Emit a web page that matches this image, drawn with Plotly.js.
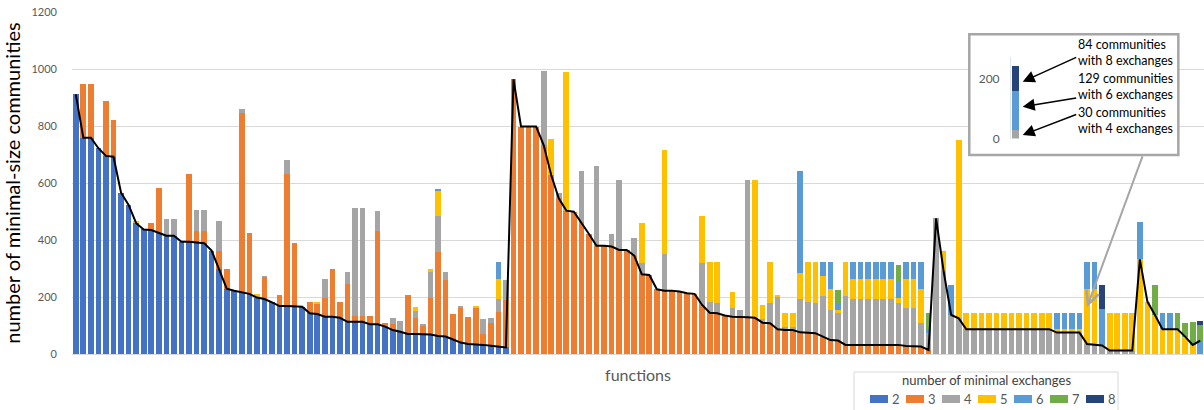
<!DOCTYPE html>
<html>
<head>
<meta charset="utf-8">
<script src="https://cdn.plot.ly/plotly-3.0.1.min.js"></script>
<style>html,body{margin:0;padding:0;background:#fff;}#chart{width:1204px;height:410px;}</style>
</head>
<body>
<div id="chart"></div>
<script>
// ---- categories ----
const seriesNames = ['2','3','4','5','6','7','8'];
const seriesColors = ['#4472C4','#ED7D31','#A5A5A5','#FFC000','#5B9BD5','#70AD47','#264478'];
const legendTitle = 'number of minimal exchanges';

// ---- series values (one entry per function, 150 functions) ----
const ex2 = [
911,759,759,722,695,692,566,523,459,437,
435,426,415,415,394,394,391,389,363,297,
229,222,216,211,198,193,181,168,168,168,
166,143,140,131,131,127,113,113,113,104,
104,96,84,78,70,70,70,68,63,61,
51,40,35,34,32,29,26,23,0,0,
0,0,0,0,0,0,0,0,0,0,
0,0,0,0,0,0,0,0,0,0,
0,0,0,0,0,0,0,0,0,0,
0,0,0,0,0,0,0,0,0,0,
0,0,0,0,0,0,0,0,0,0,
0,0,0,0,0,0,0,0,0,0,
0,0,0,0,0,0,0,0,0,0,
0,0,0,0,0,0,0,0,0,0,
0,0,0,0,0,0,0,0,0,0];
const ex3 = [
0,187,187,0,193,128,0,0,0,0,
24,156,0,0,0,239,42,44,0,64,
69,0,629,212,0,78,0,39,465,223,
0,38,37,67,166,54,133,20,20,29,
328,12,20,0,137,57,29,130,296,197,
89,123,96,129,37,79,123,165,964,798,
798,798,733,628,546,503,499,462,421,380,
380,377,365,365,345,280,277,227,222,222,
219,213,211,172,145,143,135,131,131,129,
127,110,108,87,84,84,76,75,73,61,
49,47,32,32,32,32,32,32,32,32,
28,28,26,14,0,0,0,0,0,0,
0,0,0,0,0,0,0,0,0,0,
0,0,0,0,0,0,0,0,0,0,
0,0,0,0,0,0,0,0,0,0];
const ex4 = [
0,0,0,0,0,0,0,0,0,0,
0,0,60,60,0,0,71,71,0,105,
0,0,16,0,0,4,0,0,48,0,
0,0,0,64,0,0,42,380,380,0,
71,0,23,39,0,25,5,90,126,30,
0,5,0,0,55,19,43,72,0,0,
0,0,260,0,20,0,0,180,0,278,
0,44,246,0,63,41,0,0,129,0,
0,0,0,146,39,35,0,32,22,482,
0,13,70,112,12,10,116,109,105,144,
105,96,173,160,160,160,160,160,160,146,
135,135,82,59,476,290,137,125,87,87,
87,87,87,87,87,87,87,87,87,87,
75,75,75,75,35,32,30,12,12,12,
12,0,0,0,0,0,0,0,0,0];
const ex5 = [
0,0,0,0,0,0,0,0,6,0,
0,0,0,0,0,0,0,0,0,0,
0,0,0,0,12,0,0,0,0,0,
0,0,4,0,0,0,0,0,0,0,
0,0,0,0,0,13,0,10,87,0,
0,0,0,5,0,0,71,0,0,0,
0,0,0,126,0,487,0,0,0,0,
0,0,0,0,0,140,0,0,365,0,
0,0,0,166,139,145,0,53,0,0,
484,49,145,8,49,51,91,139,145,70,
73,11,118,71,71,71,71,71,71,20,
100,100,119,0,0,73,0,626,56,56,
56,56,56,56,56,56,56,56,56,56,
12,12,12,12,192,195,0,131,131,131,
131,332,184,137,87,87,87,61,32,0];
const ex6 = [
0,0,0,0,0,0,0,0,0,0,
0,0,0,0,0,0,0,0,0,0,
0,0,0,0,0,0,0,0,0,0,
0,0,0,0,0,0,0,0,0,0,
0,0,0,0,0,0,0,0,6,0,
0,0,0,0,0,0,61,0,0,0,
0,0,0,0,0,0,0,0,0,0,
0,0,0,0,0,0,0,0,0,0,
0,0,0,0,0,0,0,0,0,0,
0,0,0,0,0,0,359,0,0,48,
96,21,0,60,60,60,60,60,60,56,
60,60,96,14,0,0,105,0,0,0,
0,0,0,0,0,0,0,0,0,0,
56,56,56,56,96,96,129,0,0,0,
0,130,0,0,56,56,0,0,0,47];
const ex7 = [
0,0,0,0,0,0,0,0,0,0,
0,0,0,0,0,0,0,0,0,0,
0,0,0,0,0,0,0,0,0,0,
0,0,0,0,0,0,0,0,0,0,
0,0,0,0,0,0,0,0,0,0,
0,0,0,0,0,0,0,0,0,0,
0,0,0,0,0,0,0,0,0,0,
0,0,0,0,0,0,0,0,0,0,
0,0,0,0,0,0,0,0,0,0,
0,0,0,0,0,0,0,0,0,0,
0,50,0,0,0,0,0,0,0,57,
0,0,0,56,0,0,0,0,0,0,
0,0,0,0,0,0,0,0,0,0,
0,0,0,0,0,0,0,0,0,0,
0,0,0,105,0,0,56,47,81,55];
const ex8 = [
0,0,0,0,0,0,0,0,0,0,
0,0,0,0,0,0,0,0,0,0,
0,0,0,0,0,0,0,0,0,0,
0,0,0,0,0,0,0,0,0,0,
0,0,0,0,0,0,0,0,0,0,
0,0,0,0,0,0,0,0,0,0,
0,0,0,0,0,0,0,0,0,0,
0,0,0,0,0,0,0,0,0,0,
0,0,0,0,0,0,0,0,0,0,
0,0,0,0,0,0,0,0,0,0,
0,0,0,0,0,0,0,0,0,0,
0,0,0,0,0,0,0,0,0,0,
0,0,0,0,0,0,0,0,0,0,
0,0,0,0,0,0,84,0,0,0,
0,0,0,0,0,0,0,0,0,14];
// black line: communities with the minimal number of exchanges
const minLine = [
911,759,759,722,695,692,566,523,459,437,
435,426,415,415,394,394,391,389,363,297,
229,222,216,211,198,193,181,168,168,168,
166,143,140,131,131,127,113,113,113,104,
104,96,84,78,70,70,70,68,63,61,
51,40,35,34,32,29,26,23,964,798,
798,798,733,628,546,503,499,462,421,380,
380,377,365,365,345,280,277,227,222,222,
219,213,211,172,145,143,135,131,131,129,
127,110,108,87,84,84,76,75,73,61,
49,47,32,32,32,32,32,32,32,32,
28,28,26,14,476,290,137,125,87,87,
87,87,87,87,87,87,87,87,87,87,
75,75,75,75,35,32,30,12,12,12,
12,332,184,137,87,87,87,61,32,47];

// ---- inset (one highlighted function) ----
const insetExchanges = ['4','6','8'];
const insetCommunities = [30,129,84];
const insetText = ['84 communities<br>with 8 exchanges','129 communities<br>with 6 exchanges','30 communities<br>with 4 exchanges'];
const yTicks = [0,200,400,600,800,1000,1200];

const functionsIdx = ex2.map((_, i) => i);
const allSeries = [ex2,ex3,ex4,ex5,ex6,ex7,ex8];
const FONT = 'Lato, "Open Sans", sans-serif';

// plot area geometry (pixels) used to place decorations
const W = 1204, H = 410, ML = 72, MR = 0, MT = 12, MB = 56;
const PW = W - ML - MR, PH = H - MT - MB;
const px = v => (v - ML) / PW;          // pixel x -> paper x
const py = v => (H - MB - v) / PH;      // pixel y -> paper y

const traces = allSeries.map((vals, k) => ({
  type: 'bar', x: functionsIdx, y: vals, name: seriesNames[k],
  marker: {color: seriesColors[k], line: {width: 0}},
  showlegend: false, hoverinfo: 'skip'
}));
traces.push({
  type: 'scatter', mode: 'lines', x: functionsIdx, y: minLine,
  line: {color: '#000000', width: 2}, showlegend: false, hoverinfo: 'skip'
});
insetExchanges.forEach((ex, j) => {
  traces.push({
    type: 'bar', x: [0], y: [insetCommunities[j]], xaxis: 'x2', yaxis: 'y2',
    name: ex, marker: {color: seriesColors[seriesNames.indexOf(ex)]}, showlegend: false, hoverinfo: 'skip'
  });
});

// ---- custom legend (box, title, swatches, labels) ----
const shapes = [
  {type: 'rect', xref: 'x', yref: 'y', x0: 118.4, x1: 146.1, y0: 698, y1: 1122,
   layer: 'between', fillcolor: '#ffffff', line: {color: '#a6a6a6', width: 2.5}},
  {type: 'rect', xref: 'paper', yref: 'paper', x0: px(854), x1: px(1118), y0: py(414), y1: py(372),
   fillcolor: '#ffffff', line: {color: '#d9d9d9', width: 1}, layer: 'above'}
];
const annotations = [
  {xref: 'paper', yref: 'paper', x: px(986), y: py(380), xanchor: 'center', yanchor: 'middle',
   text: legendTitle, showarrow: false, font: {size: 13, color: '#404040'}}
];
seriesNames.forEach((nm, k) => {
  const x0 = 870 + 36 * k;
  shapes.push({type: 'rect', xref: 'paper', yref: 'paper', x0: px(x0), x1: px(x0 + 18),
    y0: py(403), y1: py(395), fillcolor: seriesColors[k], line: {width: 0}, layer: 'above'});
  annotations.push({xref: 'paper', yref: 'paper', x: px(x0 + 20), y: py(399), xanchor: 'left', yanchor: 'middle',
    text: nm, showarrow: false, font: {size: 13, color: '#595959'}});
});

// inset arrows and texts
annotations.push(
  {xref: 'x', yref: 'y', x: 134.0, y: 165, ax: 56, ay: -152, text: '', showarrow: true,
   arrowhead: 5, arrowsize: 1.3, arrowwidth: 2, arrowcolor: '#a6a6a6'},
  {xref: 'paper', yref: 'paper', x: px(1022.7), y: py(81.7), ax: 55, ay: -25, text: '', showarrow: true,
   arrowhead: 2, arrowsize: 1.6, arrowwidth: 1.5, arrowcolor: '#000000'},
  {xref: 'paper', yref: 'paper', x: px(1022.7), y: py(106.7), ax: 55, ay: -9, text: '', showarrow: true,
   arrowhead: 2, arrowsize: 1.6, arrowwidth: 1.5, arrowcolor: '#000000'},
  {xref: 'paper', yref: 'paper', x: px(1022.7), y: py(135), ax: 55, ay: -21, text: '', showarrow: true,
   arrowhead: 2, arrowsize: 1.6, arrowwidth: 1.5, arrowcolor: '#000000'}
);
[53, 86.5, 120].forEach((yc, j) => {
  annotations.push({xref: 'paper', yref: 'paper', x: px(1076), y: py(yc), xanchor: 'left', yanchor: 'middle',
    align: 'left', text: insetText[j], showarrow: false, font: {size: 12.5, color: '#000000'}});
});

const layout = {
  width: W, height: H,
  margin: {l: ML, r: MR, t: MT, b: MB, autoexpand: false},
  barmode: 'stack', bargap: 0.25,
  paper_bgcolor: '#ffffff', plot_bgcolor: '#ffffff',
  font: {family: FONT, color: '#595959'},
  showlegend: false,
  xaxis: {
    domain: [0, 1], range: [-0.5, 149.5], showticklabels: false, showgrid: false,
    zeroline: false, ticks: '', showline: true, linecolor: '#d9d9d9',
    title: {text: 'functions', font: {size: 16, color: '#595959'}, standoff: 15}
  },
  yaxis: {
    domain: [0, 1], range: [0, 1200], tickvals: yTicks, gridcolor: '#d9d9d9', gridwidth: 1,
    zeroline: false, showline: false, ticks: '',
    tickfont: {size: 11, color: '#595959'}, ticklabelstandoff: 14,
    title: {text: 'number of minimal-size communities', font: {size: 20, color: '#000000'}, standoff: 6}
  },
  xaxis2: {
    domain: [px(1011), px(1020.6)], anchor: 'y2', range: [-0.5, 0.5], visible: false
  },
  yaxis2: {
    domain: [py(138.5), py(56.7)], anchor: 'x2', range: [0, 275], tickvals: [0, 200],
    showgrid: false, zeroline: false, showline: true, linecolor: '#dce6f2', ticks: '',
    tickfont: {size: 12, color: '#595959'}, ticklabelstandoff: 8
  },
  shapes: shapes,
  annotations: annotations
};

Plotly.newPlot('chart', traces, layout, {staticPlot: true, displayModeBar: false});
</script>
</body>
</html>
